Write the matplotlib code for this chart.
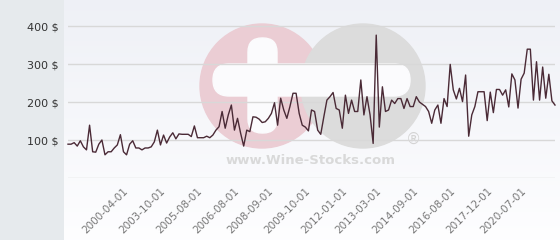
import numpy as np
import matplotlib.pyplot as plt
from matplotlib.patches import Circle, FancyBboxPatch, Rectangle

# price series (USD), one value per listed auction date
prices = [
    89, 89, 93, 84, 98, 82, 74, 139, 69, 68, 89, 100, 61, 69, 69, 79, 87, 114, 69, 61,
    89, 98, 79, 79, 74, 79, 79, 82, 95, 126, 87, 113, 92, 108, 119, 103, 116, 115, 115, 115,
    109, 137, 106, 106, 106, 110, 106, 113, 126, 135, 175, 131, 166, 192, 126, 157, 118, 84, 126, 122,
    161, 160, 155, 146, 148, 157, 170, 198, 139, 210, 179, 157, 188, 223, 223, 170, 139, 134, 124, 179,
    175, 126, 115, 161, 205, 214, 225, 183, 179, 131, 218, 170, 205, 175, 175, 258, 166, 214, 166, 91,
    376, 134,
    240, 175, 179, 205, 196, 209, 209, 183, 209, 188, 188, 214, 200, 194, 188, 175, 144, 179, 192, 144,
    209, 188, 299, 232, 208, 236, 201, 271, 110, 166, 188, 227, 227, 227, 151, 226, 172, 233, 233, 218,
    232, 187, 274, 258, 184, 260, 276, 339, 339, 205, 306, 205, 292, 210, 273, 203, 192,
]
tick_idx = [19, 31, 43, 55, 66, 78, 90, 101, 113, 125, 137, 148]
tick_labels = ['2000-04-01', '2003-10-01', '2005-08-01', '2006-08-01', '2008-09-01',
               '2009-10-01', '2012-01-01', '2013-03-01', '2014-09-01', '2016-08-01',
               '2017-12-01', '2020-07-01']
y_ticks = [0, 100, 200, 300, 400]
y_labels = ['', '100 $', '200 $', '300 $', '400 $']

W, H = 560, 240
fig = plt.figure(figsize=(W / 100, H / 100), dpi=100)

# background: left panel + gradient plot area + watermark, in pixel coords
bg = fig.add_axes([0, 0, 1, 1])
bg.set_xlim(0, W)
bg.set_ylim(H, 0)
bg.axis('off')
bg.add_patch(Rectangle((0, 0), 63, H, color='#e6eaed', zorder=0))
grad = np.linspace(0, 1, 100).reshape(-1, 1)
top = np.array([0.935, 0.943, 0.965])
bot = np.array([0.995, 0.995, 1.0])
img = top + (bot - top) * grad[..., None]
bg.imshow(img, extent=[64, W, H, 0], aspect='auto', zorder=0.5)

bg.add_patch(Circle((262, 86), 62, color='#ebcdd4', zorder=1))
bg.add_patch(Circle((363, 86), 62, color='#dcdcdc', zorder=1.1))
bg.add_patch(FancyBboxPatch((213, 64), 197, 32, boxstyle='round,pad=0,rounding_size=16',
                            color='#fbfbfd', zorder=1.2))
bg.add_patch(FancyBboxPatch((248, 38), 29, 95, boxstyle='round,pad=0,rounding_size=14',
                            color='#fbfbfd', zorder=1.2))
bg.text(311, 161, 'www.Wine-Stocks.com', ha='center', va='center', fontsize=9.5,
        fontweight='bold', color='#d9d9d9', zorder=1.3)
bg.text(413, 139, '®', ha='center', va='center', fontsize=11, color='#d4d4d4', zorder=1.3)

ax = fig.add_axes([68 / W, 62 / H, 487 / W, 178 / H])
ax.patch.set_alpha(0)
ax.set_xlim(0, len(prices) - 1)
ax.set_ylim(0, 178 / 0.38)
for s in ax.spines.values():
    s.set_visible(False)

ax.set_yticks(y_ticks)
ax.set_yticklabels(y_labels, fontsize=8, color='#333333')
ax.tick_params(axis='y', length=0, pad=7)
ax.grid(axis='y', color='#d8d8d8', lw=1)
ax.set_axisbelow(True)

ax.set_xticks(tick_idx)
ax.set_xticklabels(tick_labels, rotation=45, ha='right', va='center',
                   rotation_mode='anchor', fontsize=7.5, color='#777777')
ax.tick_params(axis='x', length=0, pad=8)

ax.plot(range(len(prices)), prices, color='#4a2a36', lw=1, clip_on=False)

fig.savefig('out.png', dpi=100)
